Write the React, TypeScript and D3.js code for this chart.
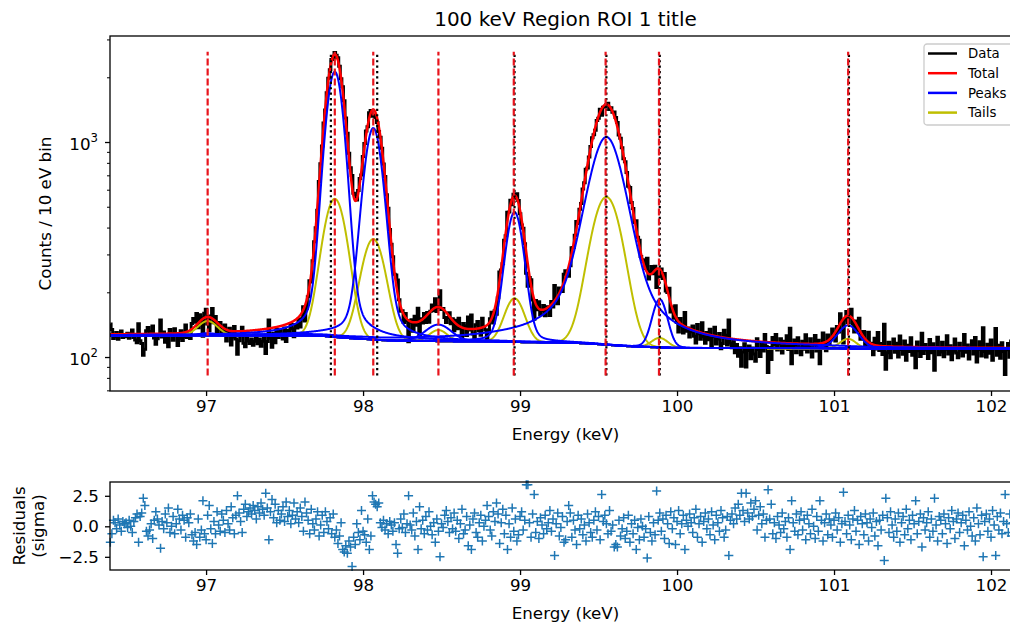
import React, { useEffect, useRef } from 'react';
import * as d3 from 'd3';

// bins are 10 eV wide, first bin centre at 96.39 keV
const binStart = 96.39;
const binWidth = 0.01;

// residuals (sigma), one per bin
const residuals: number[] = [
  -1.3, -0.6, 0.5, 0.3, -0.2, 0.6, 0.1, -0.4, 0.4, 0.2,
  0.3, -0.1, 0.5, 0.0, -0.5, 0.4, 0.7, 1.0, -1.3, 0.8,
  1.1, 2.3, 1.7, -0.4, -0.8, -0.3, 0.2, -1.0, 0.5, 1.2,
  0.6, 0.1, -1.8, 0.4, -0.2, 1.0, 0.3, 1.5, -0.5, 0.0,
  0.8, -0.6, 0.2, 1.4, 0.6, -0.3, 0.9, 0.5, -0.9, 0.7,
  0.3, 1.0, -0.7, -1.2, -0.5, -1.5, 0.6, -0.9, -0.3, 2.1,
  -0.6, -1.1, 0.9, 1.7, -0.2, -1.4, 0.4, -0.6, 1.2, 0.1,
  -0.4, 1.0, 0.5, -0.5, 1.3, 0.2, -0.3, 1.6, 0.7, -0.6,
  0.9, 2.5, 1.1, 0.4, -0.5, 1.4, 1.8, 0.8, 1.2, 1.5,
  1.0, 1.7, 1.3, 0.6, 1.6, 1.1, 1.9, 1.4, 0.9, 2.7,
  1.5, -1.1, 1.2, 2.2, 0.7, 1.8, 0.3, 1.3, 0.5, 1.0,
  1.6, 0.4, 2.0, 0.8, 1.3, 0.2, 0.9, 1.9, 0.6, 1.2,
  0.3, 1.5, 0.8, -0.4, 2.0, 1.1, 0.5, -0.6, 1.4, 0.2,
  -0.3, 0.6, 1.2, -0.8, 0.1, 0.9, -0.5, 1.2, 0.4, -0.2,
  0.7, -0.6, 1.0, -0.9, -0.3, -1.4, -0.8, 0.3, -1.9, -2.1,
  -1.6, -2.2, -1.2, -1.7, -3.3, -0.9, -1.5, 0.2, -0.5, -1.1,
  1.3, -0.4, -0.7, -1.3, 0.6, -1.9, -0.8, 2.5, 2.0, 1.8,
  1.6, 1.9, 0.3, -0.1, 0.5, -0.3, 0.2, -0.6, 0.4, 0.1,
  -0.4, 0.3, -1.5, -2.2, -0.2, 0.6, -0.1, 1.0, -0.5, 0.2,
  2.5, 0.1, -0.3, 1.1, -0.8, 0.4, -1.9, 1.6, -0.2, 0.5,
  -0.6, 0.8, -0.3, 1.2, 0.0, -0.7, 0.3, -1.3, 0.6, -0.4,
  -2.5, 0.2, -0.1, 0.9, 1.3, 0.4, -0.5, 0.7, -0.2, 1.1,
  -0.4, 0.5, -1.0, 0.2, 1.4, -0.6, -0.3, 0.8, -1.6, 0.1,
  -1.9, 0.6, 1.1, -0.5, -0.9, 0.3, 0.9, -1.2, 0.0, 0.5,
  1.7, 0.8, -0.3, -0.8, 1.2, 0.4, 1.9, 1.0, -1.4, 0.3,
  1.4, -0.6, 0.9, -1.9, 0.2, -0.9, 1.5, -0.4, 0.6, -1.2,
  -0.7, 0.8, 1.2, -0.3, 0.5, 3.4, 3.4, 0.3, -0.9, 1.0,
  2.6, -0.5, 0.4, -1.0, 0.7, 0.1, -0.6, 0.9, -0.2, 0.3,
  1.3, -0.4, 0.6, -2.4, 0.2, 1.1, -0.8, -0.1, 0.8, -1.3,
  -1.1, 0.4, 1.7, 1.1, -0.9, 0.5, -0.3, -1.5, 0.9, -0.2,
  0.6, -0.7, 0.1, -1.2, 1.0, 0.3, -0.5, -0.9, 0.5, 1.2,
  -0.3, 0.8, -1.1, 2.6, 0.4, 0.9, 0.2, -0.6, 1.3, -0.4,
  0.1, -1.7, -1.5, -1.7, 0.5, -0.8, -0.2, 0.7, -1.0, -0.4,
  0.9, -1.3, 0.2, -0.6, 0.5, -1.9, -0.1, -1.1, 0.6, 0.0,
  -0.9, -0.2, -2.6, 0.8, -0.5, -1.2, 0.3, -0.7, 2.9, 0.5,
  1.1, -0.4, 0.6, -1.0, 0.9, 0.2, -1.4, 1.2, -0.2, 0.7,
  -1.5, 0.4, 1.3, -0.6, 0.2, 0.9, -1.9, 0.5, 0.0, 1.0,
  0.3, -0.5, 0.7, 1.4, -0.9, 0.2, 0.8, -1.3, 0.4, 1.1,
  -0.2, 0.6, -0.7, 1.2, 0.1, -1.1, 0.9, 0.3, -0.4, 1.3,
  0.7, -0.9, -0.3, 0.8, -2.4, 0.5, 1.0, 0.2, 1.5, 0.6,
  1.8, 0.9, 2.7, 1.3, 0.4, 2.7, 1.1, 0.6, 1.9, 0.8,
  1.4, 2.1, -0.3, 0.9, 1.6, 0.2, 1.0, -0.9, 0.5, 3.0,
  0.6, 1.8, -0.6, 0.3, -1.0, 0.8, 0.1, -0.5, 1.1, -0.2,
  0.4, -0.9, 0.7, -1.9, 2.1, 0.3, -0.4, 1.0, -0.7, 0.5,
  1.2, -0.3, 0.6, -1.1, 0.9, 0.2, -0.6, 1.4, 0.0, -1.0,
  0.8, -0.4, 2.1, 0.5, -1.2, 0.3, 1.0, -0.7, 0.6, 0.1,
  -0.9, 0.5, 1.1, -0.3, 0.7, -1.3, 0.2, 2.8, 0.4, -0.6,
  0.9, 0.1, -1.1, 0.6, 1.3, -0.4, 0.5, -1.5, 0.8, 0.2,
  -0.7, 1.0, 0.3, -1.2, 0.6, -0.1, 1.1, -0.8, 0.4, -1.6,
  0.5, -0.3, 0.9, -2.8, 2.3, 0.7, -0.5, 1.2, 0.1, -0.9,
  0.6, -0.4, 1.1, -1.3, 0.3, 0.8, -0.7, 1.4, -0.2, 0.5,
  -1.1, 0.9, 0.2, 2.1, -0.6, 0.4, 1.0, -1.7, 0.7, -0.3,
  0.3, 1.2, -0.9, 0.6, -0.4, 2.3, 0.1, -1.2, 0.8, 0.5,
  -0.6, 1.0, 0.2, -1.4, 0.7, -0.2, 1.3, 0.4, -1.0, 0.6,
  1.1, -0.5, 0.3, 0.9, -1.6, 0.5, -0.3, 1.2, 0.0, -0.8,
  0.7, -1.2, 1.5, 0.2, -0.7, 0.9, -2.5, 0.4, 1.0, -0.4,
  0.6, -0.9, 1.3, 0.1, -2.4, 0.8, -0.3, 1.1, -0.6, 0.4,
  2.6, 0.2, -0.5, 1.0, -0.8, 0.3, 0.7, -1.1, 0.5, 0.0,
];

// fitted peak parameters (keV, counts above background)
const peakCenters = [97.01, 97.82, 98.065, 98.48, 98.965, 99.55, 99.89, 101.09];
const peakAmps = [3, 2000, 1040, 23, 354, 941, 75, 31];
const peakSigmas = [0.06, 0.052, 0.055, 0.08, 0.052, 0.105, 0.045, 0.065];
const peakLorentz = [0.1, 0.15, 0.2, 0.1, 0.15, 0.5, 0.1, 0.2];
const tailAmps = [21, 420, 233, 15, 70, 441, 12, 12];
const tailSigmas = [0.06, 0.07, 0.07, 0.055, 0.06, 0.09, 0.05, 0.05];
const bgSteps = [0, 4, 3, 1, 1, 6, 1, 1];
const bgBase = 109;

// marker lines
const fitLines = [97.01, 97.82, 98.065, 98.48, 98.96, 99.545, 99.885, 101.09];
const refLines = [97.795, 98.09, 98.965, 99.55, 99.89, 101.095];
const lineSpan = [82, 2630];

const xTicks = [97, 98, 99, 100, 101, 102];
const logTicks = [100, 1000];
const logMinor = [70, 80, 90, 200, 300, 400, 500, 600, 700, 800, 900, 2000, 3000];
const resTicks = [2.5, 0, -2.5];

const legendItems = [
  { label: 'Data', color: '#000000' },
  { label: 'Total', color: '#ff0000' },
  { label: 'Peaks', color: '#0000ff' },
  { label: 'Tails', color: '#bfbf00' },
];

const font = 'DejaVu Sans, sans-serif';

const background = (e: number) =>
  bgBase + d3.sum(peakCenters, (c, k) => bgSteps[k] / (1 + Math.exp((e - c) / peakSigmas[k])));

const peakAt = (k: number, e: number) => {
  const d = e - peakCenters[k];
  const s = peakSigmas[k];
  const g = Math.exp((-d * d) / (2 * s * s));
  const gam = 1.1774 * s;
  const l = 1 / (1 + (d / gam) ** 2);
  return peakAmps[k] * ((1 - peakLorentz[k]) * g + peakLorentz[k] * l);
};

const tailAt = (k: number, e: number) => {
  const d = e - peakCenters[k];
  const s = tailSigmas[k];
  return tailAmps[k] * Math.exp((-d * d) / (2 * s * s));
};

const totalAt = (e: number) =>
  background(e) +
  d3.sum(peakCenters, (_, k) => peakAt(k, e)) +
  d3.sum(peakCenters, (_, k) => tailAt(k, e));

const App = () => {
  const ref = useRef<SVGSVGElement>(null);

  useEffect(() => {
    const svg = d3.select(ref.current);
    svg.selectAll('*').remove();
    svg.style('font-family', font);

    const left = 110, right = 1021;
    const top1 = 36, bot1 = 391;
    const top2 = 482, bot2 = 570;

    const x = d3.scaleLinear().domain([96.388, 102.191]).range([left, right]);
    const y = d3.scaleLog().domain([69.5, 3112]).range([bot1, top1]);
    const yr = d3.scaleLinear().domain([-3.58, 3.63]).range([bot2, top2]);

    const energies = residuals.map((_, i) => binStart + i * binWidth);
    const counts = energies.map((e, i) => {
      const m = totalAt(e);
      return m - residuals[i] * Math.sqrt(m);
    });
    const fineE = d3.range(96.38, 102.2, 0.002);

    const defs = svg.append('defs');
    defs.append('clipPath').attr('id', 'clipTop')
      .append('rect').attr('x', left).attr('y', top1).attr('width', right - left).attr('height', bot1 - top1);

    // title
    svg.append('text')
      .attr('x', (left + right) / 2).attr('y', 26)
      .attr('text-anchor', 'middle').attr('font-size', 20)
      .text('100 keV Region ROI 1 title');

    const plot = svg.append('g').attr('clip-path', 'url(#clipTop)');
    const line = d3.line<[number, number]>().x(d => x(d[0])).y(d => y(d[1]));

    plot.append('path')
      .datum(energies.map((e, i) => [e, counts[i]] as [number, number]))
      .attr('d', line.curve(d3.curveStep))
      .attr('fill', 'none').attr('stroke', '#000').attr('stroke-width', 3);

    line.curve(d3.curveLinear);
    plot.append('path')
      .datum(fineE.map(e => [e, totalAt(e)] as [number, number]))
      .attr('d', line)
      .attr('fill', 'none').attr('stroke', '#ff0000').attr('stroke-width', 2.5);

    peakCenters.forEach((_, k) => {
      plot.append('path')
        .datum(fineE.map(e => [e, background(e) + tailAt(k, e)] as [number, number]))
        .attr('d', line)
        .attr('fill', 'none').attr('stroke', '#bfbf00').attr('stroke-width', 2);
    });
    peakCenters.forEach((_, k) => {
      plot.append('path')
        .datum(fineE.map(e => [e, background(e) + peakAt(k, e)] as [number, number]))
        .attr('d', line)
        .attr('fill', 'none').attr('stroke', '#0000ff').attr('stroke-width', 2);
    });

    plot.selectAll('.ref').data(refLines).enter().append('line')
      .attr('x1', d => x(d)).attr('x2', d => x(d))
      .attr('y1', y(lineSpan[0])).attr('y2', y(lineSpan[1]))
      .attr('stroke', '#000').attr('stroke-width', 2.2).attr('stroke-dasharray', '2.2,3.2');
    plot.selectAll('.fit').data(fitLines).enter().append('line')
      .attr('x1', d => x(d)).attr('x2', d => x(d))
      .attr('y1', y(lineSpan[0])).attr('y2', y(lineSpan[1]))
      .attr('stroke', '#e8141c').attr('stroke-width', 2.2).attr('stroke-dasharray', '7,3');

    // axes of the top panel
    const xAxis1 = svg.append('g').attr('transform', `translate(0,${bot1})`)
      .call(d3.axisBottom(x).tickValues(xTicks).tickSize(5).tickPadding(4).tickFormat(d3.format('d')));
    const yAxis1 = svg.append('g').attr('transform', `translate(${left},0)`)
      .call(d3.axisLeft(y).tickValues(logTicks).tickSize(5).tickFormat(() => ''));
    svg.append('g').attr('transform', `translate(${left},0)`)
      .call(d3.axisLeft(y).tickValues(logMinor).tickSize(3).tickFormat(() => ''))
      .call(g => g.select('.domain').remove())
      .selectAll('line').attr('stroke-width', 1);
    yAxis1.selectAll('.tick').each(function (d: any) {
      const t = d3.select(this).append('text')
        .attr('x', -12).attr('y', 7).attr('text-anchor', 'end')
        .attr('fill', '#000').attr('font-size', 16.7);
      t.append('tspan').text('10');
      t.append('tspan').attr('font-size', 11.7).attr('dy', -8).text(String(Math.round(Math.log10(d))));
    });

    // lower panel
    const markers = svg.append('g');
    markers.selectAll('path').data(residuals).enter().append('path')
      .attr('d', (r, i) => {
        const cx = x(energies[i]), cy = yr(r);
        return `M${cx - 4.5},${cy}h9M${cx},${cy - 4.5}v9`;
      })
      .attr('stroke', '#1f77b4').attr('stroke-width', 1.5).attr('fill', 'none');

    const xAxis2 = svg.append('g').attr('transform', `translate(0,${bot2})`)
      .call(d3.axisBottom(x).tickValues(xTicks).tickSize(5).tickPadding(4).tickFormat(d3.format('d')));
    const yAxis2 = svg.append('g').attr('transform', `translate(${left},0)`)
      .call(d3.axisLeft(yr).tickValues(resTicks).tickSize(5).tickPadding(6)
        .tickFormat(d => (+d).toFixed(1).replace('-', '\u2212')));

    [xAxis1, yAxis1, xAxis2, yAxis2].forEach(a => {
      a.select('.domain').remove();
      a.selectAll('line').attr('stroke-width', 1.3);
      a.selectAll('text').attr('font-size', 16.7).attr('font-family', font).attr('fill', '#000');
    });

    // spines
    [[top1, bot1], [top2, bot2]].forEach(([t, b]) => {
      svg.append('rect').attr('x', left).attr('y', t).attr('width', right - left).attr('height', b - t)
        .attr('fill', 'none').attr('stroke', '#000').attr('stroke-width', 1.3);
    });

    // axis labels
    [440, 619].forEach(yy => {
      svg.append('text').attr('x', (left + right) / 2).attr('y', yy)
        .attr('text-anchor', 'middle').attr('font-size', 16.7).text('Energy (keV)');
    });
    svg.append('text').attr('transform', `translate(51,${(top1 + bot1) / 2}) rotate(-90)`)
      .attr('text-anchor', 'middle').attr('font-size', 16.7).text('Counts / 10 eV bin');
    svg.append('text').attr('transform', `translate(25,${(top2 + bot2) / 2}) rotate(-90)`)
      .attr('text-anchor', 'middle').attr('font-size', 16.7).text('Residuals');
    svg.append('text').attr('transform', `translate(44,${(top2 + bot2) / 2}) rotate(-90)`)
      .attr('text-anchor', 'middle').attr('font-size', 16.7).text('(sigma)');

    // legend
    const lg = svg.append('g').attr('transform', 'translate(924,44)');
    lg.append('rect').attr('width', 110).attr('height', 81).attr('rx', 3)
      .attr('fill', 'rgba(255,255,255,0.8)').attr('stroke', '#cccccc').attr('stroke-width', 1.3);
    legendItems.forEach((it, i) => {
      const yy = 9.5 + i * 19.7;
      lg.append('line').attr('x1', 4).attr('x2', 33).attr('y1', yy).attr('y2', yy)
        .attr('stroke', it.color).attr('stroke-width', 2.5);
      lg.append('text').attr('x', 44).attr('y', yy + 4.7).attr('font-size', 13.3).text(it.label);
    });
  }, []);

  return (
    <svg
      ref={ref}
      width={1010}
      height={626}
      style={{ position: 'absolute', left: 0, top: 0, background: '#fff' }}
    />
  );
};

export default App;
